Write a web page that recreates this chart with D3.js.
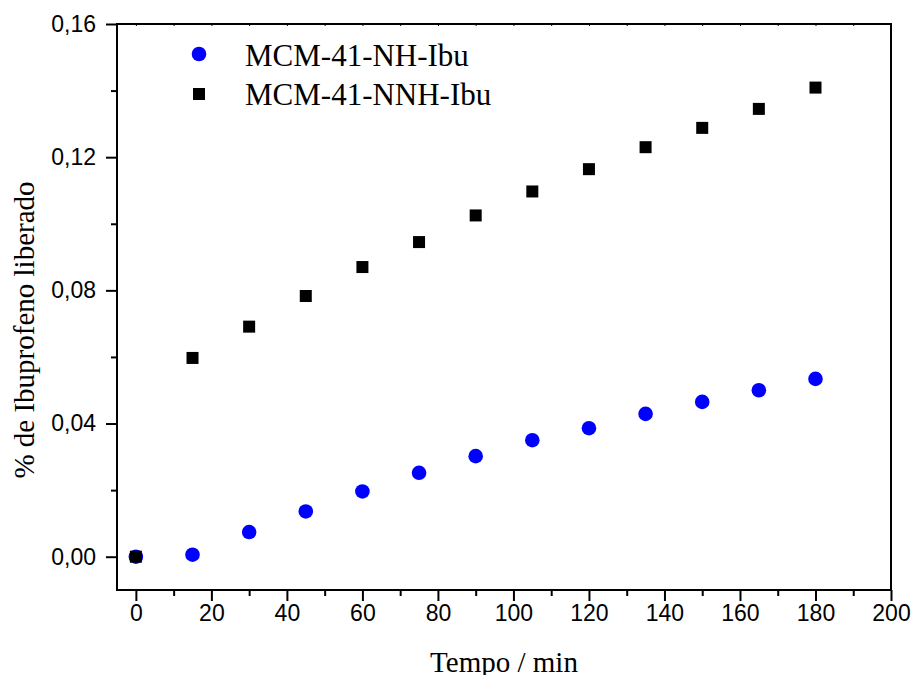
<!DOCTYPE html>
<html>
<head>
<meta charset="utf-8">
<script src="https://cdn.jsdelivr.net/npm/d3@7"></script>
<style>
  body { margin: 0; background: #fff; }
  svg { display: block; }
</style>
</head>
<body>
<div id="chart-area"></div>
<script>
var width = 912;
var height = 675;

// tempo (min)
var tempo = [0, 15, 30, 45, 60, 75, 90, 105, 120, 135, 150, 165, 180];
// MCM-41-NH-Ibu
var nhIbu = [0, 0.0006, 0.0074, 0.0136, 0.0196, 0.0252, 0.0302, 0.0350, 0.0386, 0.0429, 0.0465, 0.0500, 0.0534];
// MCM-41-NNH-Ibu
var nnhIbu = [0, 0.0597, 0.0691, 0.0783, 0.0870, 0.0945, 0.1025, 0.1097, 0.1164, 0.1230, 0.1288, 0.1345, 0.1409];

var seriesNames = ["MCM-41-NH-Ibu", "MCM-41-NNH-Ibu"];
var xTicks = [0, 20, 40, 60, 80, 100, 120, 140, 160, 180, 200];
var xMinor = [10, 30, 50, 70, 90, 110, 130, 150, 170, 190];
var yTicks = [0, 0.04, 0.08, 0.12, 0.16];
var yMinor = [0.02, 0.06, 0.10, 0.14];

var plotL = 117, plotR = 891, plotT = 24, plotB = 590;

var svg = d3.select("#chart-area").append("svg")
    .attr("width", width)
    .attr("height", height);

var x = d3.scaleLinear().domain([-5, 200]).range([plotL, plotR]);
var y = d3.scaleLinear().domain([-0.01, 0.16]).range([plotB, plotT]);

var fmtY = function(d) { return d3.format(".2f")(d).replace(".", ","); };

// bottom axis, major + minor
var gx = svg.append("g")
    .attr("transform", "translate(0," + plotB + ")")
    .call(d3.axisBottom(x).tickValues(xTicks).tickSize(11).tickPadding(4).tickFormat(d3.format("d")));
var gxm = svg.append("g")
    .attr("transform", "translate(0," + plotB + ")")
    .call(d3.axisBottom(x).tickValues(xMinor).tickSize(6).tickFormat(""));

// left axis, major + minor
var gy = svg.append("g")
    .attr("transform", "translate(" + plotL + ",0)")
    .call(d3.axisLeft(y).tickValues(yTicks).tickSize(11).tickPadding(10).tickFormat(fmtY));
var gym = svg.append("g")
    .attr("transform", "translate(" + plotL + ",0)")
    .call(d3.axisLeft(y).tickValues(yMinor).tickSize(6).tickFormat(""));

// top axis, tiny inward ticks
var gt = svg.append("g")
    .attr("transform", "translate(0," + plotT + ")")
    .call(d3.axisTop(x).tickValues(xTicks.concat(xMinor)).tickSize(-2).tickFormat(""));

[gx, gxm, gy, gym, gt].forEach(function(g) {
    g.select(".domain").remove();
    g.selectAll(".tick line").attr("stroke", "#000").attr("stroke-width", 2);
    g.selectAll(".tick text")
        .attr("fill", "#000")
        .style("font-family", "'Liberation Sans', Arial, sans-serif")
        .style("font-size", "23px");
});
gt.selectAll(".tick line").attr("stroke-width", 1);

// frame
svg.append("rect")
    .attr("x", plotL)
    .attr("y", plotT)
    .attr("width", plotR - plotL)
    .attr("height", plotB - plotT)
    .attr("fill", "none")
    .attr("stroke", "#000")
    .attr("stroke-width", 2);

// data points
var nhData = tempo.map(function(t, i) { return {t: t, v: nhIbu[i]}; });
var nnhData = tempo.map(function(t, i) { return {t: t, v: nnhIbu[i]}; });

svg.selectAll("circle.nh")
    .data(nhData)
    .enter()
    .append("circle")
    .attr("class", "nh")
    .attr("cx", function(d) { return x(d.t); })
    .attr("cy", function(d) { return y(d.v); })
    .attr("r", 7.3)
    .attr("fill", "#0000ff");

var sq = 12;
svg.selectAll("rect.nnh")
    .data(nnhData)
    .enter()
    .append("rect")
    .attr("class", "nnh")
    .attr("x", function(d) { return x(d.t) - sq / 2; })
    .attr("y", function(d) { return y(d.v) - sq / 2; })
    .attr("width", sq)
    .attr("height", sq)
    .attr("fill", "#000");

// legend
svg.append("circle")
    .attr("cx", 199)
    .attr("cy", 54)
    .attr("r", 7.3)
    .attr("fill", "#0000ff");
svg.append("rect")
    .attr("x", 199 - sq / 2)
    .attr("y", 94 - sq / 2)
    .attr("width", sq)
    .attr("height", sq)
    .attr("fill", "#000");

svg.selectAll("text.legend")
    .data(seriesNames)
    .enter()
    .append("text")
    .attr("class", "legend")
    .attr("x", 245)
    .attr("y", function(d, i) { return 66 + i * 39; })
    .style("font-family", "'Liberation Serif', 'Times New Roman', serif")
    .style("font-size", "31px")
    .attr("fill", "#000")
    .text(function(d) { return d; });

// axis titles
svg.append("text")
    .attr("x", (plotL + plotR) / 2)
    .attr("y", 672)
    .attr("text-anchor", "middle")
    .style("font-family", "'Liberation Serif', 'Times New Roman', serif")
    .style("font-size", "29px")
    .attr("fill", "#000")
    .text("Tempo / min");

svg.append("text")
    .attr("transform", "translate(34," + ((plotT + plotB) / 2 + 23) + ") rotate(-90)")
    .attr("text-anchor", "middle")
    .style("font-family", "'Liberation Serif', 'Times New Roman', serif")
    .style("font-size", "29px")
    .attr("fill", "#000")
    .text("% de Ibuprofeno liberado");
</script>
</body>
</html>
